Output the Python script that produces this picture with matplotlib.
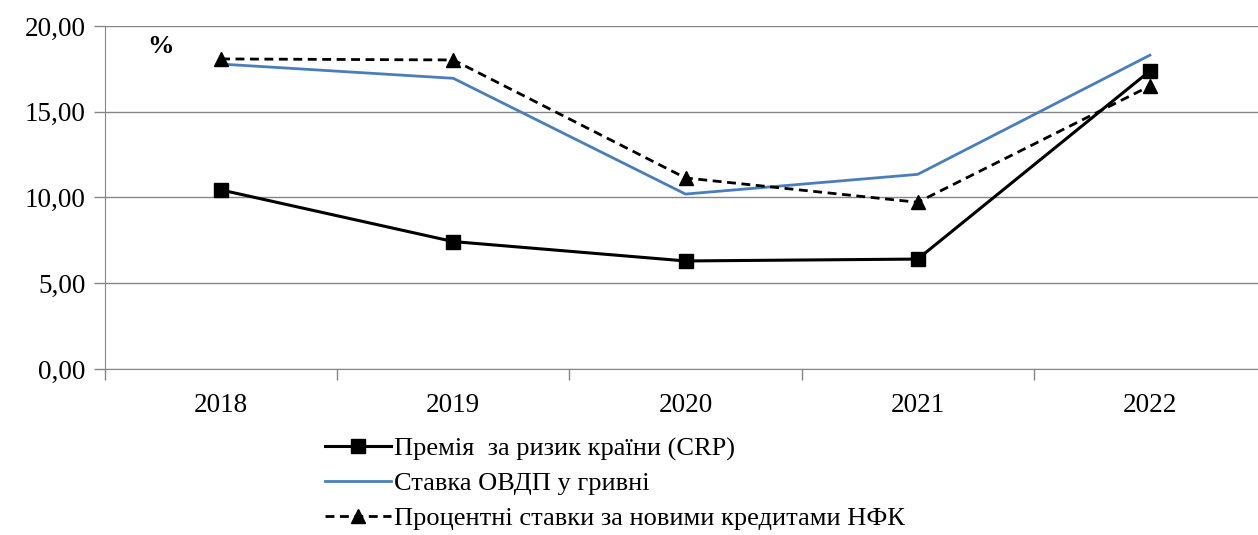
import matplotlib
matplotlib.use("Agg")
import matplotlib.pyplot as plt
import numpy as np

years = ["2018", "2019", "2020", "2021", "2022"]
crp = [10.44, 7.43, 6.30, 6.41, 17.38]
ovdp = [17.78, 16.95, 10.20, 11.35, 18.30]
nfk = [18.08, 18.02, 11.14, 9.72, 16.50]

labels = ["Премія  за ризик країни (CRP)",
          "Ставка ОВДП у гривні",
          "Процентні ставки за новими кредитами НФК"]

plt.rcParams['font.family'] = ['Liberation Serif', 'DejaVu Serif']

fig = plt.figure(figsize=(12.58, 5.35), dpi=100)
# axes slightly wider than the figure, like the clipped original
ax = fig.add_axes([105 / 1258, 1 - 369 / 535, 1161 / 1258, 343 / 535])

x = np.arange(len(years))
l1, = ax.plot(x, crp, color="black", lw=2.2, marker="s", markersize=9.5, label=labels[0])
l2, = ax.plot(x, ovdp, color="#4a7ebb", lw=2.0, label=labels[1])
l3, = ax.plot(x, nfk, color="black", lw=2.0, ls=(0, (3.2, 2)), marker="^", markersize=10, label=labels[2])

ax.set_xlim(-0.5, 4.5)
ax.set_ylim(0, 20)
ax.set_yticks([0, 5, 10, 15, 20])
ax.set_yticklabels([f"{v:.2f}".replace(".", ",") for v in [0, 5, 10, 15, 20]])
ax.set_xticks(x)
ax.set_xticklabels(years)
ax.set_xticks(np.arange(-0.5, 4.6, 1), minor=True)
ax.tick_params(axis="x", which="major", length=0, pad=17, labelsize=19.5)
ax.tick_params(axis="x", which="minor", length=8, color="#868686", width=1, direction="out")
ax.tick_params(axis="y", length=8, color="#868686", width=1, labelsize=19.5, pad=6)

ax.grid(axis="y", color="#868686", lw=1)
ax.set_axisbelow(True)
for s in ["top", "right"]:
    ax.spines[s].set_visible(False)
ax.spines["left"].set_color("#868686")
ax.spines["bottom"].set_color("#868686")

fig.text(160 / 1258, 1 - 47 / 535, "%", fontsize=19,
         fontweight="bold", ha="center", va="center")

fig.legend(handles=[l1, l2, l3], loc="upper left", bbox_to_anchor=(325 / 1258, 1 - 437 / 535),
           frameon=False, fontsize=19, handlelength=2.5, handletextpad=0.12,
           labelspacing=0.42, borderaxespad=0, borderpad=0)

fig.savefig("out.png", dpi=100)
